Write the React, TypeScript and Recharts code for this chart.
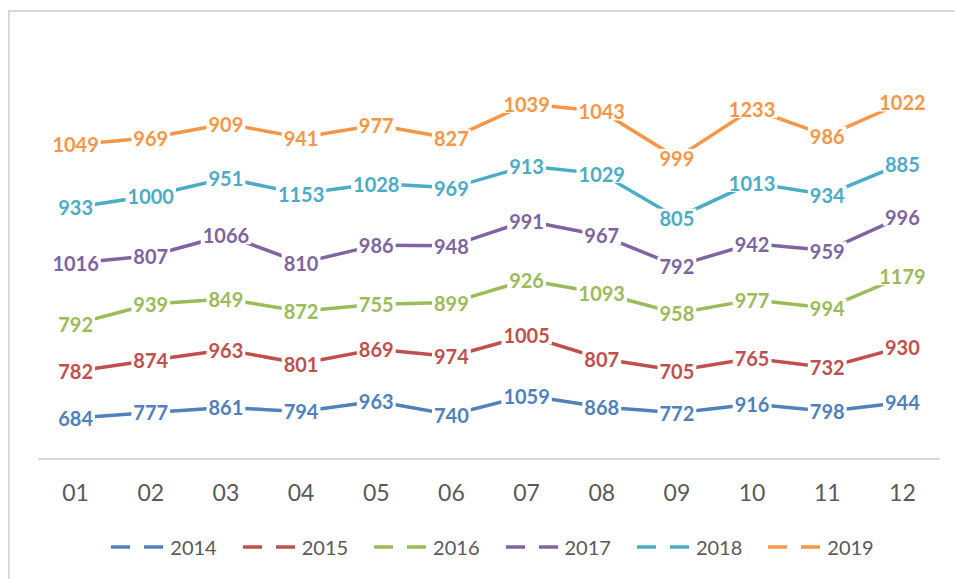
import { AreaChart, Area, XAxis, YAxis, Legend, LabelList } from "recharts";

const months = ["01", "02", "03", "04", "05", "06", "07", "08", "09", "10", "11", "12"];
const years = ["2014", "2015", "2016", "2017", "2018", "2019"];
const colors = ["#4F81BD", "#C0504D", "#9BBB59", "#8064A2", "#4BACC6", "#F79646"];

const s2014 = [684, 777, 861, 794, 963, 740, 1059, 868, 772, 916, 798, 944];
const s2015 = [782, 874, 963, 801, 869, 974, 1005, 807, 705, 765, 732, 930];
const s2016 = [792, 939, 849, 872, 755, 899, 926, 1093, 958, 977, 994, 1179];
const s2017 = [1016, 807, 1066, 810, 986, 948, 991, 967, 792, 942, 959, 996];
const s2018 = [933, 1000, 951, 1153, 1028, 969, 913, 1029, 805, 1013, 934, 885];
const s2019 = [1049, 969, 909, 941, 977, 827, 1039, 1043, 999, 1233, 986, 1022];

const series = [s2014, s2015, s2016, s2017, s2018, s2019];

// one row per month, stacking is done by the Area stackId
const data = months.map((m, i) => {
  const row: Record<string, string | number> = { month: m };
  years.forEach((y, k) => {
    row["y" + y] = series[k][i];
  });
  return row;
});

const labelFont = "Lato, 'Open Sans', sans-serif";

function makeLabel(color: string) {
  return (props: any) => {
    const { x, y, value } = props;
    if (x == null || y == null) return null;
    const w = String(value).length * 11.6 + 4;
    return (
      <g>
        <rect x={x - w / 2} y={y - 9} width={w} height={18} fill="#fff" />
        <text
          x={x}
          y={y}
          textAnchor="middle"
          dominantBaseline="central"
          fill={color}
          fontFamily={labelFont}
          fontWeight={700}
          fontSize={20}
        >
          {value}
        </text>
      </g>
    );
  };
}

function MonthTick(props: any) {
  const { x, y, payload } = props;
  return (
    <text x={x} y={y + 33} textAnchor="middle" dominantBaseline="central" fill="#595959" fontFamily={labelFont} fontSize={23}>
      {payload.value}
    </text>
  );
}

function LegendContent() {
  return (
    <div style={{ display: "flex", justifyContent: "center", alignItems: "center", gap: 26, height: 40, paddingLeft: 20 }}>
      {years.map((y, k) => (
        <div key={y} style={{ display: "flex", alignItems: "center" }}>
          <svg width={53} height={10}>
            <line x1={0} y1={5} x2={53} y2={5} stroke={colors[k]} strokeWidth={3.5} strokeDasharray="19 14" />
          </svg>
          <span style={{ marginLeft: 6, fontFamily: labelFont, fontSize: 20, color: "#595959" }}>{y}</span>
        </div>
      ))}
    </div>
  );
}

export default function App() {
  return (
    <div
      style={{
        position: "fixed",
        top: 10,
        left: 8,
        right: 0,
        bottom: 0,
        boxSizing: "border-box",
        borderLeft: "2px solid #d9d9d9",
        borderTop: "2px solid #d9d9d9",
        overflow: "hidden",
        background: "#fff",
      }}
    >
      <AreaChart width={945} height={567} data={data} margin={{ top: 28, right: 15, left: 28, bottom: 40 }}>
        <XAxis
          dataKey="month"
          height={40}
          padding={{ left: 37.6, right: 37.6 }}
          tickLine={false}
          tickSize={0}
          tickMargin={0}
          axisLine={{ stroke: "#d9d9d9", strokeWidth: 2 }}
          tick={<MonthTick />}
          interval={0}
        />
        <YAxis hide domain={[0, 7000]} />
        <Legend
          verticalAlign="bottom"
          content={<LegendContent />}
          wrapperStyle={{ top: 515, bottom: "auto", left: 0, width: 945, height: 40 }}
        />
        {years.map((y, k) => (
          <Area
            key={y}
            type="linear"
            dataKey={"y" + y}
            stackId="a"
            stroke={colors[k]}
            strokeWidth={3.5}
            fill="none"
            fillOpacity={0}
            dot={false}
            activeDot={false}
            isAnimationActive={false}
          >
            <LabelList dataKey={"y" + y} content={makeLabel(colors[k])} />
          </Area>
        ))}
      </AreaChart>
    </div>
  );
}
